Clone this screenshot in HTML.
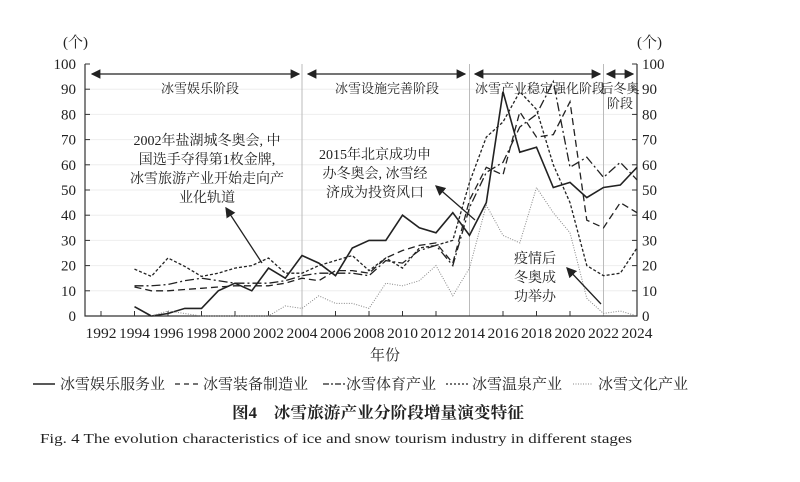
<!DOCTYPE html>
<html><head><meta charset="utf-8"><style>
body{margin:0;background:#fff;}
svg text{font-family:"Liberation Serif","Noto Serif CJK SC","Noto Sans CJK SC",serif;fill:#222;}
</style></head><body>
<svg id="s" width="800" height="477" xmlns="http://www.w3.org/2000/svg">
<defs><marker id="ah" markerWidth="8" markerHeight="8" refX="7" refY="4" orient="auto"><path d="M0,0 L8,4 L0,8 Z" fill="#222"/></marker>
<marker id="as" markerWidth="8" markerHeight="8" refX="1" refY="4" orient="auto"><path d="M8,0 L0,4 L8,8 Z" fill="#222"/></marker></defs>
<g id="grid"></g>
<g id="series"></g>
<g font-size="14">
<text x="63" y="47" font-size="15">(个)</text>
<text x="637" y="47" font-size="15">(个)</text>
<text x="370" y="360" font-size="15">年份</text>
<text x="200" y="93" font-size="13" text-anchor="middle">冰雪娱乐阶段</text>
<text x="387" y="93" font-size="13" text-anchor="middle">冰雪设施完善阶段</text>
<text x="540" y="93" font-size="13" text-anchor="middle">冰雪产业稳定强化阶段</text>
<text x="620" y="93" font-size="13" text-anchor="middle">后冬奥</text>
<text x="620" y="108" font-size="13" text-anchor="middle">阶段</text>
<text x="207" y="145" text-anchor="middle">2002年盐湖城冬奥会, 中</text>
<text x="207" y="164" text-anchor="middle">国选手夺得第1枚金牌,</text>
<text x="207" y="183" text-anchor="middle">冰雪旅游产业开始走向产</text>
<text x="207" y="202" text-anchor="middle">业化轨道</text>
<text x="375" y="159" text-anchor="middle">2015年北京成功申</text>
<text x="375" y="178" text-anchor="middle">办冬奥会, 冰雪经</text>
<text x="375" y="197" text-anchor="middle">济成为投资风口</text>
<text x="535" y="263" text-anchor="middle">疫情后</text>
<text x="535" y="282" text-anchor="middle">冬奥成</text>
<text x="535" y="301" text-anchor="middle">功举办</text>
</g>
<line x1="262" y1="263" x2="226" y2="208" stroke="#222" stroke-width="1.3" marker-end="url(#ah)"/>
<line x1="475" y1="220" x2="436" y2="186" stroke="#222" stroke-width="1.3" marker-end="url(#ah)"/>
<line x1="601" y1="304" x2="567" y2="268" stroke="#222" stroke-width="1.3" marker-end="url(#ah)"/>
<g stroke="#222" stroke-width="1.2" marker-start="url(#as)" marker-end="url(#ah)">
<line x1="92" y1="74" x2="299" y2="74"/><line x1="308" y1="74" x2="465" y2="74"/>
<line x1="475" y1="74" x2="600" y2="74"/><line x1="607" y1="74" x2="633" y2="74"/>
</g>
<g font-size="15">
<line x1="33" y1="384" x2="55" y2="384" stroke="#222" stroke-width="1.5"/><text x="60" y="389">冰雪娱乐服务业</text>
<line x1="175" y1="384" x2="198" y2="384" stroke="#222" stroke-width="1.3" stroke-dasharray="5,4"/><text x="203" y="389">冰雪装备制造业</text>
<line x1="323" y1="384" x2="346" y2="384" stroke="#222" stroke-width="1.3" stroke-dasharray="6,2,2,2"/><text x="346" y="389">冰雪体育产业</text>
<line x1="446" y1="384" x2="468" y2="384" stroke="#222" stroke-width="1.3" stroke-dasharray="2,2"/><text x="472" y="389">冰雪温泉产业</text>
<line x1="573" y1="384" x2="593" y2="384" stroke="#888" stroke-width="1" stroke-dasharray="1,1.5"/><text x="598" y="389">冰雪文化产业</text>
</g>
<text x="232" y="418" font-size="16" font-weight="bold" textLength="292" lengthAdjust="spacingAndGlyphs" font-family="'Noto Sans CJK SC',sans-serif">图4　冰雪旅游产业分阶段增量演变特征</text>
<text x="40" y="443" font-size="14" textLength="592" lengthAdjust="spacingAndGlyphs">Fig. 4   The evolution characteristics of ice and snow tourism industry in different stages</text>
</svg>
<script>
var NS="http://www.w3.org/2000/svg";
function X(y){return 101+(y-1992)*16.75;}function Y(v){return 316-v*2.52;}
function el(p,t,a,txt){var e=document.createElementNS(NS,t);for(var k in a)e.setAttribute(k,a[k]);if(txt!==undefined)e.textContent=txt;p.appendChild(e);return e;}
var g=document.getElementById('grid'),s=document.getElementById('s');
for(var v=0;v<=100;v+=10){
 if(v>0&&v<100)el(g,'line',{x1:85,x2:637,y1:Y(v),y2:Y(v),stroke:'#eee','stroke-width':1});
 el(g,'line',{x1:85,x2:90,y1:Y(v),y2:Y(v),stroke:'#333'});
 el(g,'line',{x1:632,x2:637,y1:Y(v),y2:Y(v),stroke:'#333'});
 el(g,'text',{x:76,y:Y(v)+5,'text-anchor':'end','font-size':15},v);
 el(g,'text',{x:642,y:Y(v)+5,'font-size':15},v);
}
for(var yr=1992;yr<=2024;yr+=2){el(g,'line',{x1:X(yr),x2:X(yr),y1:316,y2:311,stroke:'#333'});
 el(g,'text',{x:X(yr),y:338,'text-anchor':'middle','font-size':14.5,'textLength':31,'lengthAdjust':'spacingAndGlyphs'},yr);}
[2004,2014,2022].forEach(function(y){el(g,'line',{x1:X(y),x2:X(y),y1:64,y2:316,stroke:'#bbb'});});
el(g,'path',{d:'M85,64 V316 H637 V64',fill:'none',stroke:'#333','stroke-width':1.2});
var D={
a:[[1994,3.7],[1995,0],[1996,1],[1997,3],[1998,3],[1999,10],[2000,13],[2001,10],[2002,19],[2003,15],[2004,24],[2005,21],[2006,16],[2007,27],[2008,30],[2009,30],[2010,40],[2011,35],[2012,33],[2013,41],[2014,32],[2015,45],[2016,89],[2017,65],[2018,67],[2019,51],[2020,53],[2021,47],[2022,51],[2023,52],[2024,59]],
b:[[1994,11.5],[1995,10],[1996,10],[1997,10.5],[1998,11],[1999,11.5],[2000,12],[2001,12],[2002,12],[2003,13],[2004,15],[2005,14],[2006,18],[2007,18],[2008,17],[2009,23],[2010,26],[2011,28],[2012,29],[2013,21],[2014,46],[2015,59],[2016,56],[2017,81],[2018,71],[2019,72],[2020,85],[2021,38],[2022,35],[2023,45],[2024,41]],
c:[[1994,12],[1995,12],[1996,12.5],[1997,14],[1998,15],[1999,14],[2000,13],[2001,13],[2002,13],[2003,14],[2004,16],[2005,17],[2006,17],[2007,17],[2008,16],[2009,22],[2010,21],[2011,26],[2012,28],[2013,20],[2014,43],[2015,57],[2016,61],[2017,75],[2018,80],[2019,93],[2020,59],[2021,63],[2022,55],[2023,61],[2024,54]],
d:[[1994,18.6],[1995,15.7],[1996,23],[1997,19.7],[1998,15.7],[1999,17],[2000,19],[2001,20],[2002,23],[2003,17],[2004,17],[2005,20],[2006,22],[2007,24],[2008,18],[2009,23],[2010,19],[2011,27],[2012,28],[2013,30],[2014,53],[2015,71],[2016,77],[2017,89],[2018,82],[2019,60],[2020,45],[2021,20],[2022,16],[2023,17],[2024,27]],
e:[[1995,0],[1996,2],[1997,1],[1998,0],[2002,0],[2003,4],[2004,3],[2005,8],[2006,5],[2007,5],[2008,3],[2009,13],[2010,12],[2011,14],[2012,20],[2013,8],[2014,19],[2015,44],[2016,32],[2017,29],[2018,51],[2019,41],[2020,33],[2021,7],[2022,1],[2023,2],[2024,0]]};
var st={a:{stroke:'#222','stroke-width':1.6},b:{stroke:'#222','stroke-width':1.3,'stroke-dasharray':'7,4'},c:{stroke:'#222','stroke-width':1.3,'stroke-dasharray':'9,3,2,3'},d:{stroke:'#222','stroke-width':1.3,'stroke-dasharray':'3,2'},e:{stroke:'#888','stroke-width':1,'stroke-dasharray':'1,1.5'}};
var sg=document.getElementById('series');
for(var k in D){var a=st[k];a.fill='none';a.points=D[k].map(function(p){return X(p[0]).toFixed(1)+','+Y(p[1]).toFixed(1)}).join(' ');el(sg,'polyline',a);}
</script>
</body></html>
